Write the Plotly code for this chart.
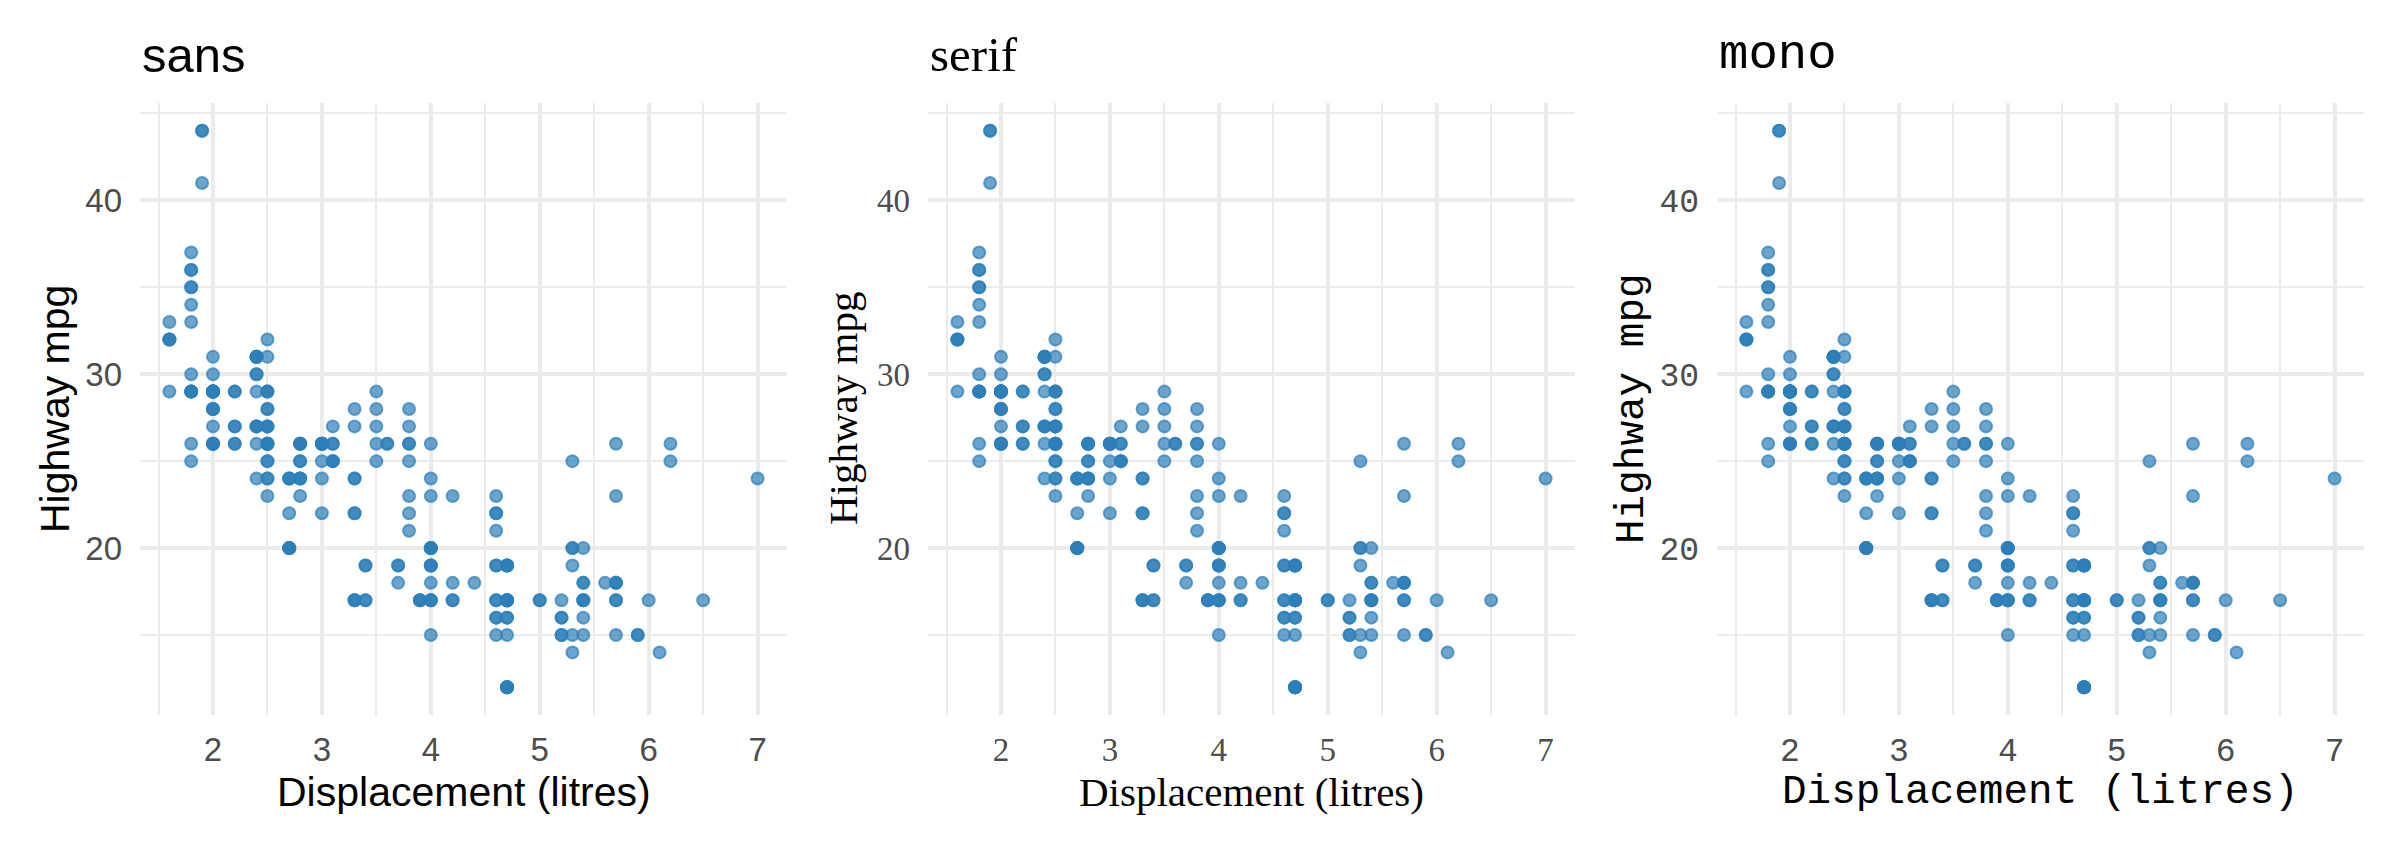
import plotly.graph_objects as go

# mpg data: engine displacement (litres) and highway mpg, one entry per car
displ = [
    1.8, 1.8, 2.0, 2.0, 2.8, 2.8, 3.1, 1.8, 1.8, 2.0, 2.0, 2.8, 2.8, 3.1, 3.1, 2.8, 3.1, 4.2,
    5.3, 5.3, 5.3, 5.7, 6.0, 5.7, 5.7, 6.2, 6.2, 7.0, 5.3, 5.3, 5.7, 6.5, 2.4, 2.4, 3.1, 3.5, 3.6,
    2.4, 3.0, 3.3, 3.3, 3.3, 3.3, 3.3, 3.8, 3.8, 3.8, 4.0, 3.7, 3.7, 3.9, 3.9, 4.7, 4.7, 4.7, 5.2,
    5.2, 3.9, 4.7, 4.7, 4.7, 5.2, 5.7, 5.9, 4.7, 4.7, 4.7, 4.7, 4.7, 4.7, 5.2, 5.2, 5.7, 5.9,
    4.6, 5.4, 5.4, 4.0, 4.0, 4.0, 4.0, 4.6, 5.0, 4.2, 4.2, 4.6, 4.6, 4.6, 5.4, 5.4, 3.8, 3.8,
    4.0, 4.0, 4.6, 4.6, 4.6, 4.6, 5.4,
    1.6, 1.6, 1.6, 1.6, 1.6, 1.8, 1.8, 1.8, 2.0,
    2.4, 2.4, 2.4, 2.4, 2.5, 2.5, 3.3, 2.0, 2.0, 2.0, 2.0, 2.7, 2.7, 2.7,
    3.0, 3.7, 4.0, 4.7, 4.7, 4.7, 5.7, 6.1,
    4.0, 4.2, 4.4, 4.6, 5.4, 5.4, 5.4, 4.0, 4.0, 4.6, 5.0,
    2.4, 2.4, 2.5, 2.5, 3.5, 3.5, 3.0, 3.0, 3.5, 3.3, 3.3, 4.0, 5.6,
    3.1, 3.8, 3.8, 3.8, 5.3,
    2.5, 2.5, 2.5, 2.5, 2.5, 2.5, 2.2, 2.2, 2.5, 2.5, 2.5, 2.5, 2.5, 2.5,
    2.7, 2.7, 3.4, 3.4, 4.0, 4.7, 2.2, 2.2, 2.4, 2.4, 3.0, 3.0, 3.5, 2.2, 2.2, 2.4, 2.4, 3.0,
    3.0, 3.3, 1.8, 1.8, 1.8, 1.8, 1.8, 4.7, 5.7, 2.7, 2.7, 2.7, 3.4, 3.4, 4.0, 4.0,
    2.0, 2.0, 2.0, 2.0, 2.8, 1.9, 2.0, 2.0, 2.0, 2.0, 2.5, 2.5, 2.8, 2.8, 1.9, 1.9, 2.0, 2.0,
    2.5, 2.5, 1.8, 1.8, 2.0, 2.0, 2.8, 2.8, 3.6,
]
hwy = [
    29, 29, 31, 30, 26, 26, 27, 26, 25, 28, 27, 25, 25, 25, 25, 24, 25, 23,
    20, 15, 20, 17, 17, 26, 23, 26, 25, 24, 19, 14, 15, 17, 27, 30, 26, 29, 26,
    24, 24, 22, 22, 24, 24, 17, 22, 21, 23, 23, 19, 18, 17, 17, 19, 19, 12, 17,
    15, 17, 17, 12, 17, 16, 18, 15, 16, 12, 17, 17, 16, 12, 15, 16, 17, 15,
    17, 17, 18, 17, 19, 17, 19, 19, 17, 17, 17, 16, 16, 17, 15, 17, 26, 25,
    26, 24, 21, 22, 23, 22, 20,
    33, 32, 32, 29, 32, 34, 36, 36, 29,
    26, 27, 30, 31, 26, 26, 28, 26, 29, 28, 29, 24, 24, 24,
    22, 19, 20, 17, 12, 19, 18, 14,
    15, 18, 18, 15, 17, 16, 18, 17, 19, 19, 17,
    29, 27, 31, 32, 27, 26, 26, 25, 25, 17, 17, 20, 18,
    26, 26, 27, 28, 25,
    25, 24, 27, 25, 26, 23, 26, 26, 26, 26, 28, 27, 24, 27,
    20, 20, 19, 17, 20, 19, 29, 27, 31, 31, 26, 26, 28, 27, 29, 31, 31, 26,
    26, 27, 30, 33, 35, 37, 35, 15, 18, 20, 20, 22, 17, 19, 18, 20,
    29, 26, 29, 29, 24, 44, 29, 26, 29, 29, 29, 29, 23, 24, 44, 41, 29, 26,
    28, 29, 29, 29, 28, 29, 26, 26, 26,
]

panel_titles = ["sans", "serif", "mono"]
panel_fonts = ["Liberation Sans", "Liberation Serif", "Liberation Mono"]
x_label = "Displacement (litres)"
y_label = "Highway mpg"
x_tick_vals = [2, 3, 4, 5, 6, 7]
y_tick_vals = [20, 30, 40]

W, H = 2400, 850
panel_left = [140, 928, 1717]
panel_w = 647
panel_top, panel_bottom = 103, 715

point_col = "rgba(44,127,184,0.7)"
grid_col = "#EBEBEB"

fig = go.Figure()

for i, (name, font) in enumerate(zip(panel_titles, panel_fonts)):
    n = "" if i == 0 else str(i + 1)
    fig.add_trace(go.Scatter(
        x=displ, y=hwy, mode="markers", xaxis="x" + n, yaxis="y" + n,
        marker=dict(size=12, color=point_col, line=dict(width=2, color=point_col)),
        showlegend=False, hoverinfo="x+y",
    ))
    x0 = panel_left[i] / W
    x1 = (panel_left[i] + panel_w) / W
    common = dict(showline=False, zeroline=False, ticks="",
                  gridcolor=grid_col, gridwidth=3.5,
                  tickfont=dict(family=font, size=33, color="#4D4D4D"))
    fig.update_layout(**{
        "xaxis" + n: dict(domain=[x0, x1], anchor="y" + n, range=[1.33, 7.27],
                          tickvals=x_tick_vals, ticklabelstandoff=12,
                          minor=dict(dtick=0.5, tick0=0, showgrid=True, gridcolor=grid_col, gridwidth=2),
                          **common),
        "yaxis" + n: dict(domain=[(H - panel_bottom) / H, (H - panel_top) / H], anchor="x" + n,
                          range=[10.4, 45.6], tickvals=y_tick_vals, ticklabelstandoff=17,
                          minor=dict(dtick=5, tick0=0, showgrid=True, gridcolor=grid_col, gridwidth=2),
                          **common),
    })
    # panel title, axis titles
    fig.add_annotation(text=name, xref="paper", yref="paper", x=x0, y=(H - 55) / H,
                       xanchor="left", yanchor="middle", showarrow=False,
                       font=dict(family=font, size=49, color="black"))
    fig.add_annotation(text=x_label, xref="paper", yref="paper", x=(x0 + x1) / 2, y=(H - 792) / H,
                       xanchor="center", yanchor="middle", showarrow=False,
                       font=dict(family=font, size=41, color="black"))
    fig.add_annotation(text=y_label, xref="paper", yref="paper", x=(panel_left[i] - 85) / W,
                       y=(H - (panel_top + panel_bottom) / 2) / H, textangle=-90,
                       xanchor="center", yanchor="middle", showarrow=False,
                       font=dict(family=font, size=41, color="black"))

fig.update_layout(width=W, height=H, margin=dict(l=0, r=0, t=0, b=0),
                  paper_bgcolor="white", plot_bgcolor="white")

# drop the browser's default page margin so the figure sits at 0,0
fig.write_html("out.html", config={"displayModeBar": False},
               post_script="document.body.style.margin='0';")
